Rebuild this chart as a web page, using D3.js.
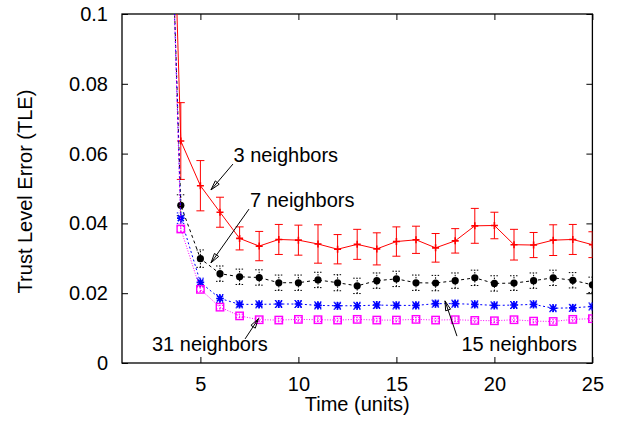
<!DOCTYPE html>
<html>
<head>
<meta charset="utf-8">
<script src="https://cdn.jsdelivr.net/npm/d3@7"></script>
<style>
  body { margin: 0; background: #fff; }
  svg { display: block; }
  text { font-family: "Liberation Sans", Arial, Helvetica, sans-serif; font-size: 20px; fill: #000; }
</style>
</head>
<body>
<svg id="chart" width="621" height="428"></svg>
<script>
// Time steps (units)
const times = [3, 4, 5, 6, 7, 8, 9, 10, 11, 12, 13, 14, 15, 16, 17, 18, 19, 20, 21, 22, 23, 24, 25];

// Mean trust level error and its spread, per neighbourhood size
const tle3  = [0.25, 0.0636, 0.0508, 0.0432, 0.0357, 0.0335, 0.0354, 0.0352, 0.0341, 0.0326, 0.0340, 0.0327, 0.0348, 0.0353, 0.0330, 0.0350, 0.0393, 0.0394, 0.0339, 0.0338, 0.0352, 0.0354, 0.0339];
const err3  = [0.012, 0.0110, 0.0072, 0.0043, 0.0033, 0.0042, 0.0043, 0.0043, 0.0055, 0.0042, 0.0043, 0.0046, 0.0042, 0.0039, 0.0041, 0.0035, 0.0050, 0.0038, 0.0044, 0.0036, 0.0044, 0.0043, 0.0037];

const tle7  = [0.22, 0.0452, 0.0299, 0.0256, 0.0247, 0.0245, 0.0230, 0.0230, 0.0238, 0.0230, 0.0221, 0.0236, 0.0241, 0.0230, 0.0229, 0.0236, 0.0244, 0.0228, 0.0229, 0.0236, 0.0244, 0.0237, 0.0224];
const err7  = [0.005, 0.0030, 0.0025, 0.0022, 0.0022, 0.0022, 0.0022, 0.0022, 0.0022, 0.0023, 0.0022, 0.0022, 0.0022, 0.0022, 0.0022, 0.0022, 0.0022, 0.0022, 0.0021, 0.0022, 0.0022, 0.0022, 0.0022];

const tle15 = [0.225, 0.0415, 0.0231, 0.0185, 0.0168, 0.0168, 0.0169, 0.0169, 0.0165, 0.0164, 0.0164, 0.0166, 0.0165, 0.0165, 0.0170, 0.0170, 0.0168, 0.0165, 0.0166, 0.0168, 0.0157, 0.0158, 0.0162];
const err15 = [0.003, 0.0015, 0.0012, 0.0011, 0.0010, 0.0010, 0.0010, 0.0010, 0.0010, 0.0010, 0.0010, 0.0010, 0.0010, 0.0010, 0.0010, 0.0010, 0.0010, 0.0010, 0.0010, 0.0010, 0.0010, 0.0010, 0.0010];

const tle31 = [0.23, 0.0384, 0.0211, 0.0160, 0.0135, 0.0124, 0.0123, 0.0125, 0.0124, 0.0123, 0.0125, 0.0123, 0.0123, 0.0125, 0.0123, 0.0124, 0.0122, 0.0121, 0.0124, 0.0120, 0.0119, 0.0125, 0.0127];
const err31 = [0.002, 0.0008, 0.0006, 0.0005, 0.0005, 0.0005, 0.0005, 0.0005, 0.0005, 0.0005, 0.0005, 0.0005, 0.0005, 0.0005, 0.0005, 0.0005, 0.0005, 0.0005, 0.0005, 0.0005, 0.0005, 0.0005, 0.0005];

// Axis ticks and titles
const xTicks = [5, 10, 15, 20, 25];
const yTicks = [0, 0.02, 0.04, 0.06, 0.08, 0.1];
const yTickLabels = ["0", "0.02", "0.04", "0.06", "0.08", "0.1"];
const xTitle = "Time (units)";
const yTitle = "Trust Level Error (TLE)";

// Callout labels with arrows, in data coordinates
const calloutNames = ["3 neighbors", "7 neighbors", "31 neighbors", "15 neighbors"];
const calloutText  = [[6.69, 0.0576], [7.53, 0.0448], [2.53, 0.0033], [18.32, 0.0033]];
const arrowFrom    = [[6.66, 0.0570], [7.48, 0.0441], [7.28, 0.0069], [18.09, 0.0077]];
const arrowTo      = [[5.54, 0.0496], [5.54, 0.0287], [7.96, 0.0127], [17.48, 0.0178]];

const svg = d3.select("#chart");
const pLeft = 122, pRight = 592.4, pTop = 14, pBottom = 363;

const x = d3.scaleLinear().domain([1, 25]).range([pLeft, pRight]);
const y = d3.scaleLinear().domain([0, 0.1]).range([pBottom, pTop]);

// Clip region = plot frame
svg.append("defs").append("clipPath").attr("id", "plotClip")
  .append("rect").attr("x", pLeft).attr("y", pTop)
  .attr("width", pRight - pLeft).attr("height", pBottom - pTop);

// Axes with inward ticks on all four sides
const tick = 6;
const gx = svg.append("g").attr("transform", `translate(0,${pBottom})`)
  .call(d3.axisBottom(x).tickValues(xTicks).tickSizeInner(-tick).tickSizeOuter(0).tickPadding(13.6).tickFormat(d3.format("d")));
const gxt = svg.append("g").attr("transform", `translate(0,${pTop})`)
  .call(d3.axisTop(x).tickValues(xTicks).tickSizeInner(-tick).tickSizeOuter(0).tickFormat(""));
const gy = svg.append("g").attr("transform", `translate(${pLeft},0)`)
  .call(d3.axisLeft(y).tickValues(yTicks).tickSizeInner(-tick).tickSizeOuter(0).tickPadding(14)
    .tickFormat((d, i) => yTickLabels[i]));
const gyr = svg.append("g").attr("transform", `translate(${pRight},0)`)
  .call(d3.axisRight(y).tickValues(yTicks).tickSizeInner(-tick).tickSizeOuter(0).tickFormat(""));

[gx, gxt, gy, gyr].forEach(g => {
  g.select(".domain").remove();
  g.selectAll("line").attr("stroke", "#000").attr("stroke-width", 1);
  g.selectAll("text").attr("font-size", 20).attr("font-family", null).attr("fill", "#000");
});

// Frame
svg.append("rect").attr("x", pLeft).attr("y", pTop)
  .attr("width", pRight - pLeft).attr("height", pBottom - pTop)
  .attr("fill", "none").attr("stroke", "#000").attr("stroke-width", 1.3);

// Axis titles
svg.append("text").attr("x", (pLeft + pRight) / 2).attr("y", 411)
  .attr("text-anchor", "middle").text(xTitle);
svg.append("text").attr("transform", `translate(32,${(pTop + pBottom) / 2 + 3}) rotate(-90)`)
  .attr("text-anchor", "middle").text(yTitle);

// Series
const series = [
  { v: tle3,  e: err3,  color: "#ff0000", dash: null,  marker: "plus" },
  { v: tle7,  e: err7,  color: "#000000", dash: "3,3", marker: "circle" },
  { v: tle15, e: err15, color: "#0000ff", dash: "2,2.5", marker: "star" },
  { v: tle31, e: err31, color: "#ff00ff", dash: "1,1.6", marker: "square" }
];

const plot = svg.append("g").attr("clip-path", "url(#plotClip)");
const line = d3.line().x(d => x(d[0])).y(d => y(d[1]));
const capW = 4;

series.forEach(s => {
  const pts = times.map((t, i) => [t, s.v[i], s.e[i]]);
  const g = plot.append("g");

  // error bars
  pts.forEach(p => {
    const eb = g.append("g").attr("stroke", s.color).attr("stroke-width", 1)
      .attr("stroke-dasharray", s.dash ? "1.5,1.5" : null);
    eb.append("line").attr("x1", x(p[0])).attr("x2", x(p[0]))
      .attr("y1", y(p[1] - p[2])).attr("y2", y(p[1] + p[2]));
    eb.append("line").attr("x1", x(p[0]) - capW).attr("x2", x(p[0]) + capW)
      .attr("y1", y(p[1] + p[2])).attr("y2", y(p[1] + p[2]));
    eb.append("line").attr("x1", x(p[0]) - capW).attr("x2", x(p[0]) + capW)
      .attr("y1", y(p[1] - p[2])).attr("y2", y(p[1] - p[2]));
  });

  // connecting line
  g.append("path").datum(pts).attr("d", line)
    .attr("fill", "none").attr("stroke", s.color).attr("stroke-width", 1)
    .attr("stroke-dasharray", s.dash);

  // markers
  pts.forEach(p => {
    const cx = x(p[0]), cy = y(p[1]);
    if (s.marker === "plus") {
      g.append("path").attr("d", `M${cx - 3.5},${cy}H${cx + 3.5}M${cx},${cy - 3.5}V${cy + 3.5}`)
        .attr("stroke", s.color).attr("stroke-width", 1.6);
    } else if (s.marker === "circle") {
      g.append("circle").attr("cx", cx).attr("cy", cy).attr("r", 3.6).attr("fill", s.color);
    } else if (s.marker === "star") {
      const r = 3.8, d = 3;
      g.append("path")
        .attr("d", `M${cx - r},${cy}H${cx + r}M${cx},${cy - r}V${cy + r}M${cx - d},${cy - d}L${cx + d},${cy + d}M${cx - d},${cy + d}L${cx + d},${cy - d}`)
        .attr("stroke", s.color).attr("stroke-width", 1.6);
    } else {
      g.append("rect").attr("x", cx - 3.7).attr("y", cy - 3.7).attr("width", 7.4).attr("height", 7.4)
        .attr("fill", "none").attr("stroke", s.color).attr("stroke-width", 1.4);
    }
  });
});

// Callouts
calloutNames.forEach((name, i) => {
  svg.append("text").attr("x", x(calloutText[i][0])).attr("y", y(calloutText[i][1])).text(name);
  const x1 = x(arrowFrom[i][0]), y1 = y(arrowFrom[i][1]);
  const x2 = x(arrowTo[i][0]),   y2 = y(arrowTo[i][1]);
  const ang = Math.atan2(y2 - y1, x2 - x1);
  const hl = 10, ha = Math.PI / 12;
  const ax = x2 - hl * Math.cos(ang - ha), ay = y2 - hl * Math.sin(ang - ha);
  const bx = x2 - hl * Math.cos(ang + ha), by = y2 - hl * Math.sin(ang + ha);
  svg.append("path")
    .attr("d", `M${x1},${y1}L${x2},${y2}M${ax},${ay}L${x2},${y2}L${bx},${by}Z`)
    .attr("fill", "none").attr("stroke", "#000").attr("stroke-width", 1);
});
</script>
</body>
</html>
